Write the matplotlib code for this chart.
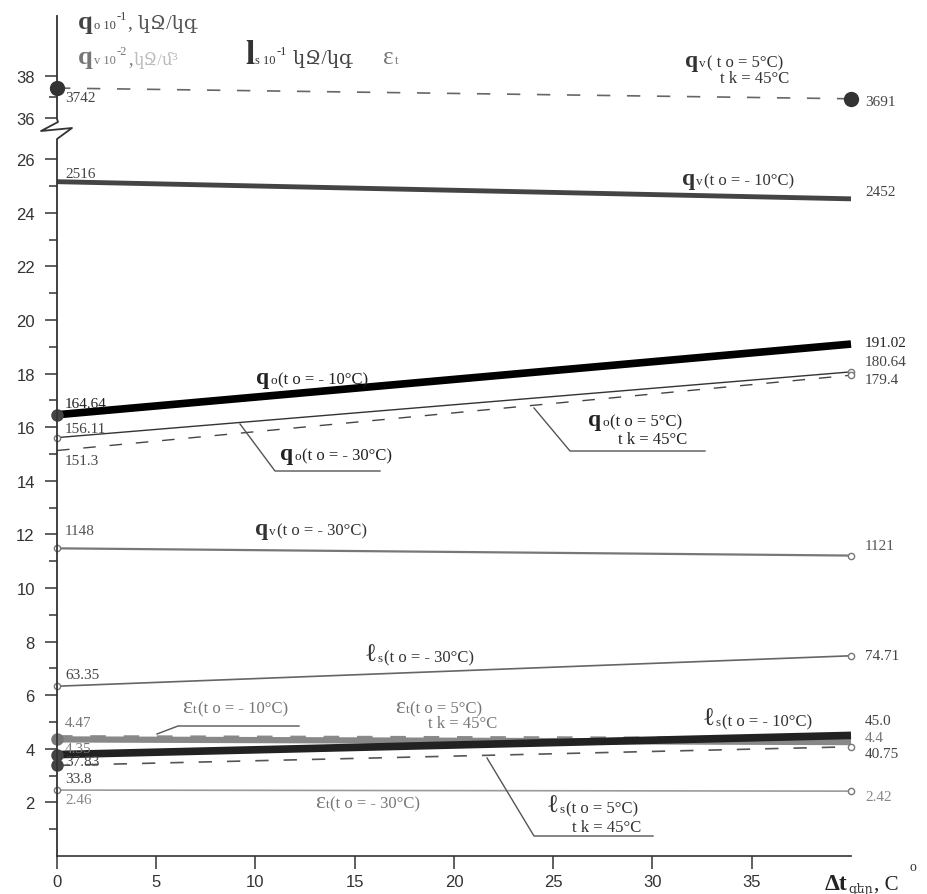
import numpy as np
import matplotlib.pyplot as plt
from matplotlib.lines import Line2D

# ---- data ----
dt = [0, 40]                      # superheat, deg C

qv_5 = [37.42, 36.91]             # qv*10^-2 (to=5, tk=45)
qv_m10 = [25.16, 24.52]
qo_m10 = [16.464, 19.102]         # qo*10^-1
qo_m30 = [15.611, 18.064]
qo_5 = [15.13, 17.94]
qv_m30 = [11.48, 11.21]
ls_m30 = [6.335, 7.471]           # ls*10^-1
et_5 = [4.47, 4.40]               # eps_t
et_m10 = [4.35, 4.25]
ls_m10 = [3.783, 4.50]
ls_5 = [3.38, 4.075]
et_m30 = [2.46, 2.42]

left_txt = ["3742", "2516", "164.64", "156.11", "151.3", "1148", "63.35",
            "4.47", "4.35", "37.83", "33.8", "2.46"]
right_txt = ["3691", "2452", "191.02", "180.64", "179.4", "1121", "74.71",
             "4.4", None, "45.0", "40.75", "2.42"]

W, H = 928, 895
SERIF = ['Liberation Serif', 'DejaVu Serif']
SANS = ['Liberation Sans', 'DejaVu Sans']


# broken y axis: 0..27 linear, squeezed gap, then 36.. at another scale
def fwd(v):
    v = np.asarray(v, dtype=float)
    return np.where(v <= 27, v,
                    np.where(v < 36, 27 + (v - 27) * (0.54 / 9),
                             27.54 + (v - 36) * 0.784))


def inv(s):
    s = np.asarray(s, dtype=float)
    return np.where(s <= 27, s,
                    np.where(s < 27.54, 27 + (s - 27) * 9 / 0.54,
                             36 + (s - 27.54) / 0.784))


fig = plt.figure(figsize=(W / 100, H / 100), dpi=100)
ax = fig.add_axes([57 / W, (H - 857) / H, 794 / W, 840 / H])
ax.set_yscale('function', functions=(fwd, inv))
ax.set_xlim(0, 40)
ax.set_ylim(0, 40.85)

# series: (values, colour, lw, style, left marker, right marker)
series = [
    (qv_5, '#666666', 1.2, (0, (8, 10)), 'big', 'big'),
    (qv_m10, '#444444', 3.5, '-', None, None),
    (qo_m10, '#000000', 5.5, '-', 'mid', None),
    (qo_m30, '#333333', 1.0, '-', 'small', 'small'),
    (qo_5, '#444444', 1.0, (0, (9, 10)), None, 'small'),
    (qv_m30, '#777777', 1.6, '-', 'small', 'small'),
    (ls_m30, '#666666', 1.2, '-', 'small', 'small'),
    (et_5, '#8a8a8a', 1.6, (0, (7, 8)), None, None),
    (et_m10, '#888888', 4.5, '-', 'grey', None),
    (ls_m10, '#222222', 5.5, '-', 'mid', None),
    (ls_5, '#555555', 1.2, (0, (8, 9)), 'mid', 'small'),
    (et_m30, '#9a9a9a', 1.2, '-', 'small', 'small'),
]

marker_style = {
    'big': dict(marker='o', ms=10, mfc='#333333', mec='#333333'),
    'mid': dict(marker='o', ms=8, mfc='#444444', mec='#444444'),
    'grey': dict(marker='o', ms=8, mfc='#777777', mec='#777777'),
    'small': dict(marker='o', ms=4.5, mfc='white', mec='#777777', mew=1),
}

for vals, col, lw, ls, lm, rm in series:
    ax.plot(dt, vals, color=col, lw=lw, linestyle=ls, solid_capstyle='butt',
            clip_on=False, zorder=3)
    for xi, yi, m in ((dt[0], vals[0], lm), (dt[1], vals[1], rm)):
        if m:
            ax.plot([xi], [yi], linestyle='none', clip_on=False, zorder=4,
                    **marker_style[m])

# end value labels, offsets in pixels (dx, dy up)
left_off = [(8, -9), (8, 8), (8, 11), (8, 9), (8, -10), (8, 18), (8, 12),
            (8, 14), (8, -9), (8, -7), (8, -13), (8, -9)]
right_off = [(14, -3), (14, 7), (14, 2), (14, 10), (14, -4), (14, 10), (14, 0),
             (14, 1), None, (14, 15), (14, -7), (14, -5)]
label_col = ['#444444', '#444444', '#222222', '#444444', '#444444', '#555555',
             '#444444', '#777777', '#777777', '#444444', '#444444', '#888888']
for (vals, *_), lt, rt, lo, ro, c in zip(series, left_txt, right_txt,
                                          left_off, right_off, label_col):
    ax.annotate(lt, (dt[0], vals[0]), xytext=(lo[0] * 0.72, lo[1] * 0.72),
                textcoords='offset points', ha='left', va='center',
                fontsize=11, family=SERIF, color=c, annotation_clip=False)
    if rt:
        ax.annotate(rt, (dt[1], vals[1]), xytext=(ro[0] * 0.72, ro[1] * 0.72),
                    textcoords='offset points', ha='left', va='center',
                    fontsize=11, family=SERIF, color=c, annotation_clip=False)

# axes cosmetics
for s in ['top', 'right', 'left']:
    ax.spines[s].set_visible(False)
ax.spines['bottom'].set_color('#333333')
ax.spines['bottom'].set_linewidth(1.2)

ax.set_yticks(list(range(2, 27, 2)) + [36, 38])
ax.set_yticks(list(range(1, 26, 2)) + [37], minor=True)
ax.set_xticks(range(0, 36, 5))
ax.tick_params(axis='y', which='major', length=9, width=1.2, color='#444444',
               pad=7, labelsize=12, labelcolor='#333333')
ax.tick_params(axis='y', which='minor', length=6, width=1.2, color='#444444')
ax.tick_params(axis='x', length=9, width=1.2, color='#444444', pad=4,
               labelsize=12, labelcolor='#333333')
for lab in ax.get_xticklabels() + ax.get_yticklabels():
    lab.set_family(SANS)


def px(x, y):
    return x / W, 1 - y / H


# hand drawn y axis with a break
for pts in ([(57, 17), (57, 120), (58, 123), (41, 132), (72, 129), (57, 140),
             (57, 857)],):
    xs, ys = zip(*[px(*p) for p in pts])
    fig.add_artist(Line2D(xs, ys, color='#333333', lw=1.3))

# leader lines for some labels
leaders = [
    [(240, 425), (275, 472), (380, 472)],      # qo -30
    [(534, 409), (570, 452), (705, 452)],      # qo 5
    [(157, 735), (178, 727), (299, 727)],      # et -10
    [(487, 759), (534, 837), (653, 837)],      # ls 5
]
for pts in leaders:
    xs, ys = zip(*[px(*p) for p in pts])
    fig.add_artist(Line2D(xs, ys, color='#555555', lw=1.0))

renderer = fig.canvas.get_renderer()


def chain(x0, base, parts, default_col='#222222'):
    """parts: (text, size, rise_px, colour, bold)"""
    x = x0
    for part in parts:
        s, size, rise, col, bold = part
        t = fig.text(*px(x, base - rise), s, fontsize=size, family=SERIF,
                     color=col or default_col,
                     fontweight='bold' if bold else 'normal',
                     ha='left', va='baseline')
        x += t.get_window_extent(renderer=renderer).width + 1


def sym_label(x0, base, sym, sub, tail, col='#222222', bold=True, size=17):
    chain(x0, base, [(sym, size, 0, col, bold), (sub, 9.5, 0, col, False),
                     (tail, 12, 0, col, False)])


TK = 't k = 45°C'
sym_label(685, 67, 'q', 'v', '( t o = 5°C)', '#333333')
chain(720, 83, [(TK, 12, 0, '#333333', False)])
sym_label(682, 185, 'q', 'v', '(t o = - 10°C)', '#333333')
sym_label(256, 384, 'q', 'o', '(t o = - 10°C)')
sym_label(280, 460, 'q', 'o', '(t o = - 30°C)')
sym_label(588, 426, 'q', 'o', '(t o = 5°C)')
chain(618, 444, [(TK, 12, 0, '#222222', False)])
sym_label(255, 535, 'q', 'v', '(t o = - 30°C)', '#333333')
sym_label(365, 662, 'ℓ', 's', '(t o = - 30°C)', '#333333', False, 18)
sym_label(182, 713, 'ε', 't', '(t o = - 10°C)', '#777777', False, 17)
sym_label(395, 713, 'ε', 't', '(t o = 5°C)', '#777777', False, 17)
chain(428, 728, [(TK, 12, 0, '#777777', False)])
sym_label(703, 726, 'ℓ', 's', '(t o = - 10°C)', '#333333', False, 18)
sym_label(315, 808, 'ε', 't', '(t o = - 30°C)', '#777777', False, 17)
sym_label(547, 813, 'ℓ', 's', '(t o = 5°C)', '#333333', False, 18)
chain(572, 832, [(TK, 12, 0, '#333333', False)])

# header with axis units
chain(78, 29, [('q', 19, 0, '#444444', True), ('o 10', 9, 0, '#444444', False),
               ('-1', 9, 9, '#444444', False),
               (', կՋ/կգ', 14, 0, '#555555', False)])
chain(78, 64, [('q', 19, 0, '#777777', True), ('v 10', 9, 0, '#777777', False),
               ('-2', 9, 9, '#777777', False), (',', 13, 0, '#777777', False),
               ('կՋ/մ³', 12, 0, '#bbbbbb', False)])
chain(245, 64, [('l', 24, 0, '#333333', True), ('s 10', 9, 0, '#333333', False),
                ('-1', 9, 9, '#333333', False),
                (' կՋ/կգ', 14, 0, '#444444', False)])
chain(383, 64, [('ε', 18, 0, '#777777', False), ('t', 9, 0, '#777777', False)])

# x axis title
chain(825, 890, [('Δt', 17, 0, '#222222', True), ('գեր', 9, -3, '#333333', False),
                 (', C', 15, 0, '#222222', False)])
fig.text(*px(913, 868), 'o', fontsize=10, family=SERIF, color='#333333',
         ha='center', va='center')

fig.savefig('out.png', dpi=100)
